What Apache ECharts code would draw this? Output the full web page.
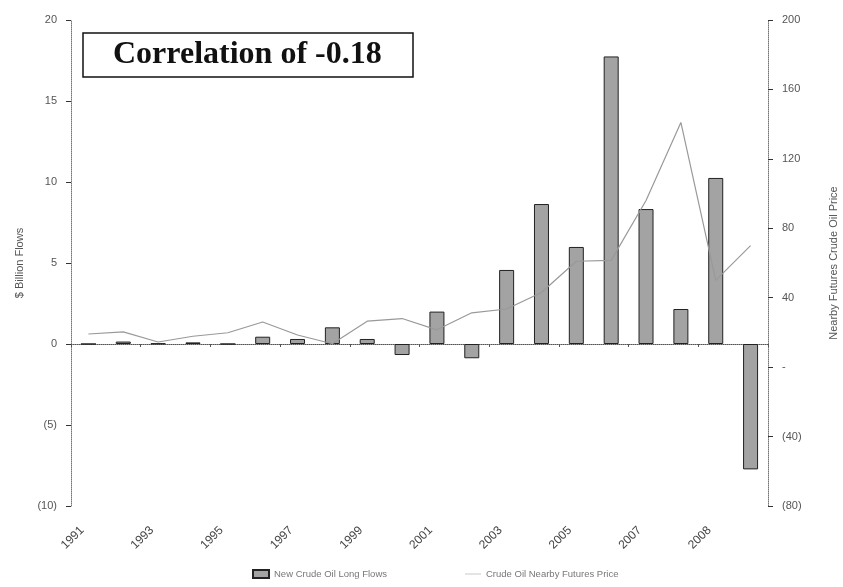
<!DOCTYPE html>
<html>
<head>
<meta charset="utf-8">
<title>Correlation of -0.18</title>
<script src="https://cdn.jsdelivr.net/npm/echarts@6/dist/echarts.min.js"></script>
<style>
  html, body { margin: 0; padding: 0; background: #fff; }
  #chart { width: 843px; height: 587px; }
</style>
</head>
<body>
<div id="chart"></div>
<script>
  // categories (last three points: mid 2008, end 2008, 2009)
  const years = ['1991','1992','1993','1994','1995','1996','1997','1998','1999','2000',
    '2001','2002','2003','2004','2005','2006','2007','2008','2008','2009']
  // $ billion, left axis
  const longFlows = [0, 0.15, 0.03, 0.1, 0, 0.45, 0.31, 1.03, 0.31, -0.68,
    2.0, -0.88, 4.57, 8.64, 5.99, 17.75, 8.33, 2.16, 10.25, -7.74]
  // $ / bbl, right axis
  const oilPrice = [19.1, 20.3, 14.5, 17.8, 19.8, 26, 18.5, 13.5, 26.5, 28,
    21.5, 31.3, 33.5, 43, 61, 61.5, 96, 141, 50, 70]

  const leftTicks = { min: -10, max: 20, interval: 5 }
  const rightTicks = { min: -80, max: 200, interval: 40 }

  function paren(v) {
    if (v < 0) return '(' + (-v) + ')'
    return String(v)
  }

  const chart = echarts.init(document.getElementById('chart'))
  const labelFont = { fontFamily: 'Liberation Sans', fontSize: 11, color: '#555' }

  chart.setOption({
    animation: false,
    grid: { left: 71, right: 75, top: 20, bottom: 81, outerBoundsMode: 'none' },
    title: {
      text: 'Correlation of -0.18',
      left: 83,
      top: 33,
      padding: [5, 32, 5, 30],
      borderColor: '#111',
      borderWidth: 1.5,
      backgroundColor: '#fff',
      textStyle: {
        fontFamily: 'Liberation Serif',
        fontWeight: 'bold',
        fontSize: 32,
        lineHeight: 34,
        color: '#111'
      }
    },
    legend: {
      orient: 'horizontal',
      left: 247,
      bottom: 3,
      itemGap: 78,
      itemWidth: 16,
      itemHeight: 8,
      textStyle: { fontFamily: 'Liberation Sans', fontSize: 9.5, color: '#777' },
      data: [
        { name: 'New Crude Oil Long Flows', icon: 'rect' },
        { name: 'Crude Oil Nearby Futures Price', icon: 'path://M0,0L30,0L30,1L0,1Z' }
      ]
    },
    xAxis: [
      {
        type: 'category',
        data: years,
        position: 'bottom',
        axisLine: { show: false, onZero: false },
        axisTick: { show: false },
        axisLabel: Object.assign({ interval: 1, rotate: 45, margin: 16, padding: [0, 9, 0, 0] },
          labelFont, { color: '#444', fontSize: 12 })
      },
      {
        // zero line with ticks, sits on the left axis zero
        type: 'category',
        data: years,
        position: 'bottom',
        axisLine: { show: true, onZero: true, onZeroAxisIndex: 0, lineStyle: { color: '#555', type: 'dotted', width: 1 } },
        axisTick: { show: true, interval: 1, length: 3, lineStyle: { color: '#555' } },
        axisLabel: { show: false }
      }
    ],
    yAxis: [
      {
        type: 'value',
        min: leftTicks.min,
        max: leftTicks.max,
        interval: leftTicks.interval,
        name: '$ Billion Flows',
        nameLocation: 'middle',
        nameRotate: 90,
        nameGap: 46,
        nameTextStyle: { fontFamily: 'Liberation Sans', fontSize: 11, color: '#555' },
        axisLine: { show: true, lineStyle: { color: '#777', type: 'dotted' } },
        axisTick: { show: true, length: 5, lineStyle: { color: '#333' } },
        axisLabel: Object.assign({ margin: 14, formatter: paren }, labelFont),
        splitLine: { show: false }
      },
      {
        type: 'value',
        position: 'right',
        min: rightTicks.min,
        max: rightTicks.max,
        interval: rightTicks.interval,
        name: 'Nearby Futures Crude Oil Price',
        nameLocation: 'middle',
        nameRotate: 90,
        nameGap: 60,
        nameTextStyle: { fontFamily: 'Liberation Sans', fontSize: 11, color: '#555' },
        axisLine: { show: true, lineStyle: { color: '#777', type: 'dotted' } },
        axisTick: { show: true, length: 5, lineStyle: { color: '#333' } },
        axisLabel: Object.assign({
          margin: 14,
          formatter: function (v) { return v === 0 ? '-' : paren(v) }
        }, labelFont),
        splitLine: { show: false }
      }
    ],
    series: [
      {
        name: 'New Crude Oil Long Flows',
        type: 'bar',
        xAxisIndex: 0,
        yAxisIndex: 0,
        barWidth: 15,
        data: longFlows,
        itemStyle: { color: '#a3a3a3', borderColor: '#222', borderWidth: 1 }
      },
      {
        name: 'Crude Oil Nearby Futures Price',
        type: 'line',
        xAxisIndex: 0,
        yAxisIndex: 1,
        data: oilPrice,
        symbol: 'none',
        color: '#999',
        lineStyle: { color: '#999', width: 1.2 }
      }
    ]
  })
</script>
</body>
</html>
